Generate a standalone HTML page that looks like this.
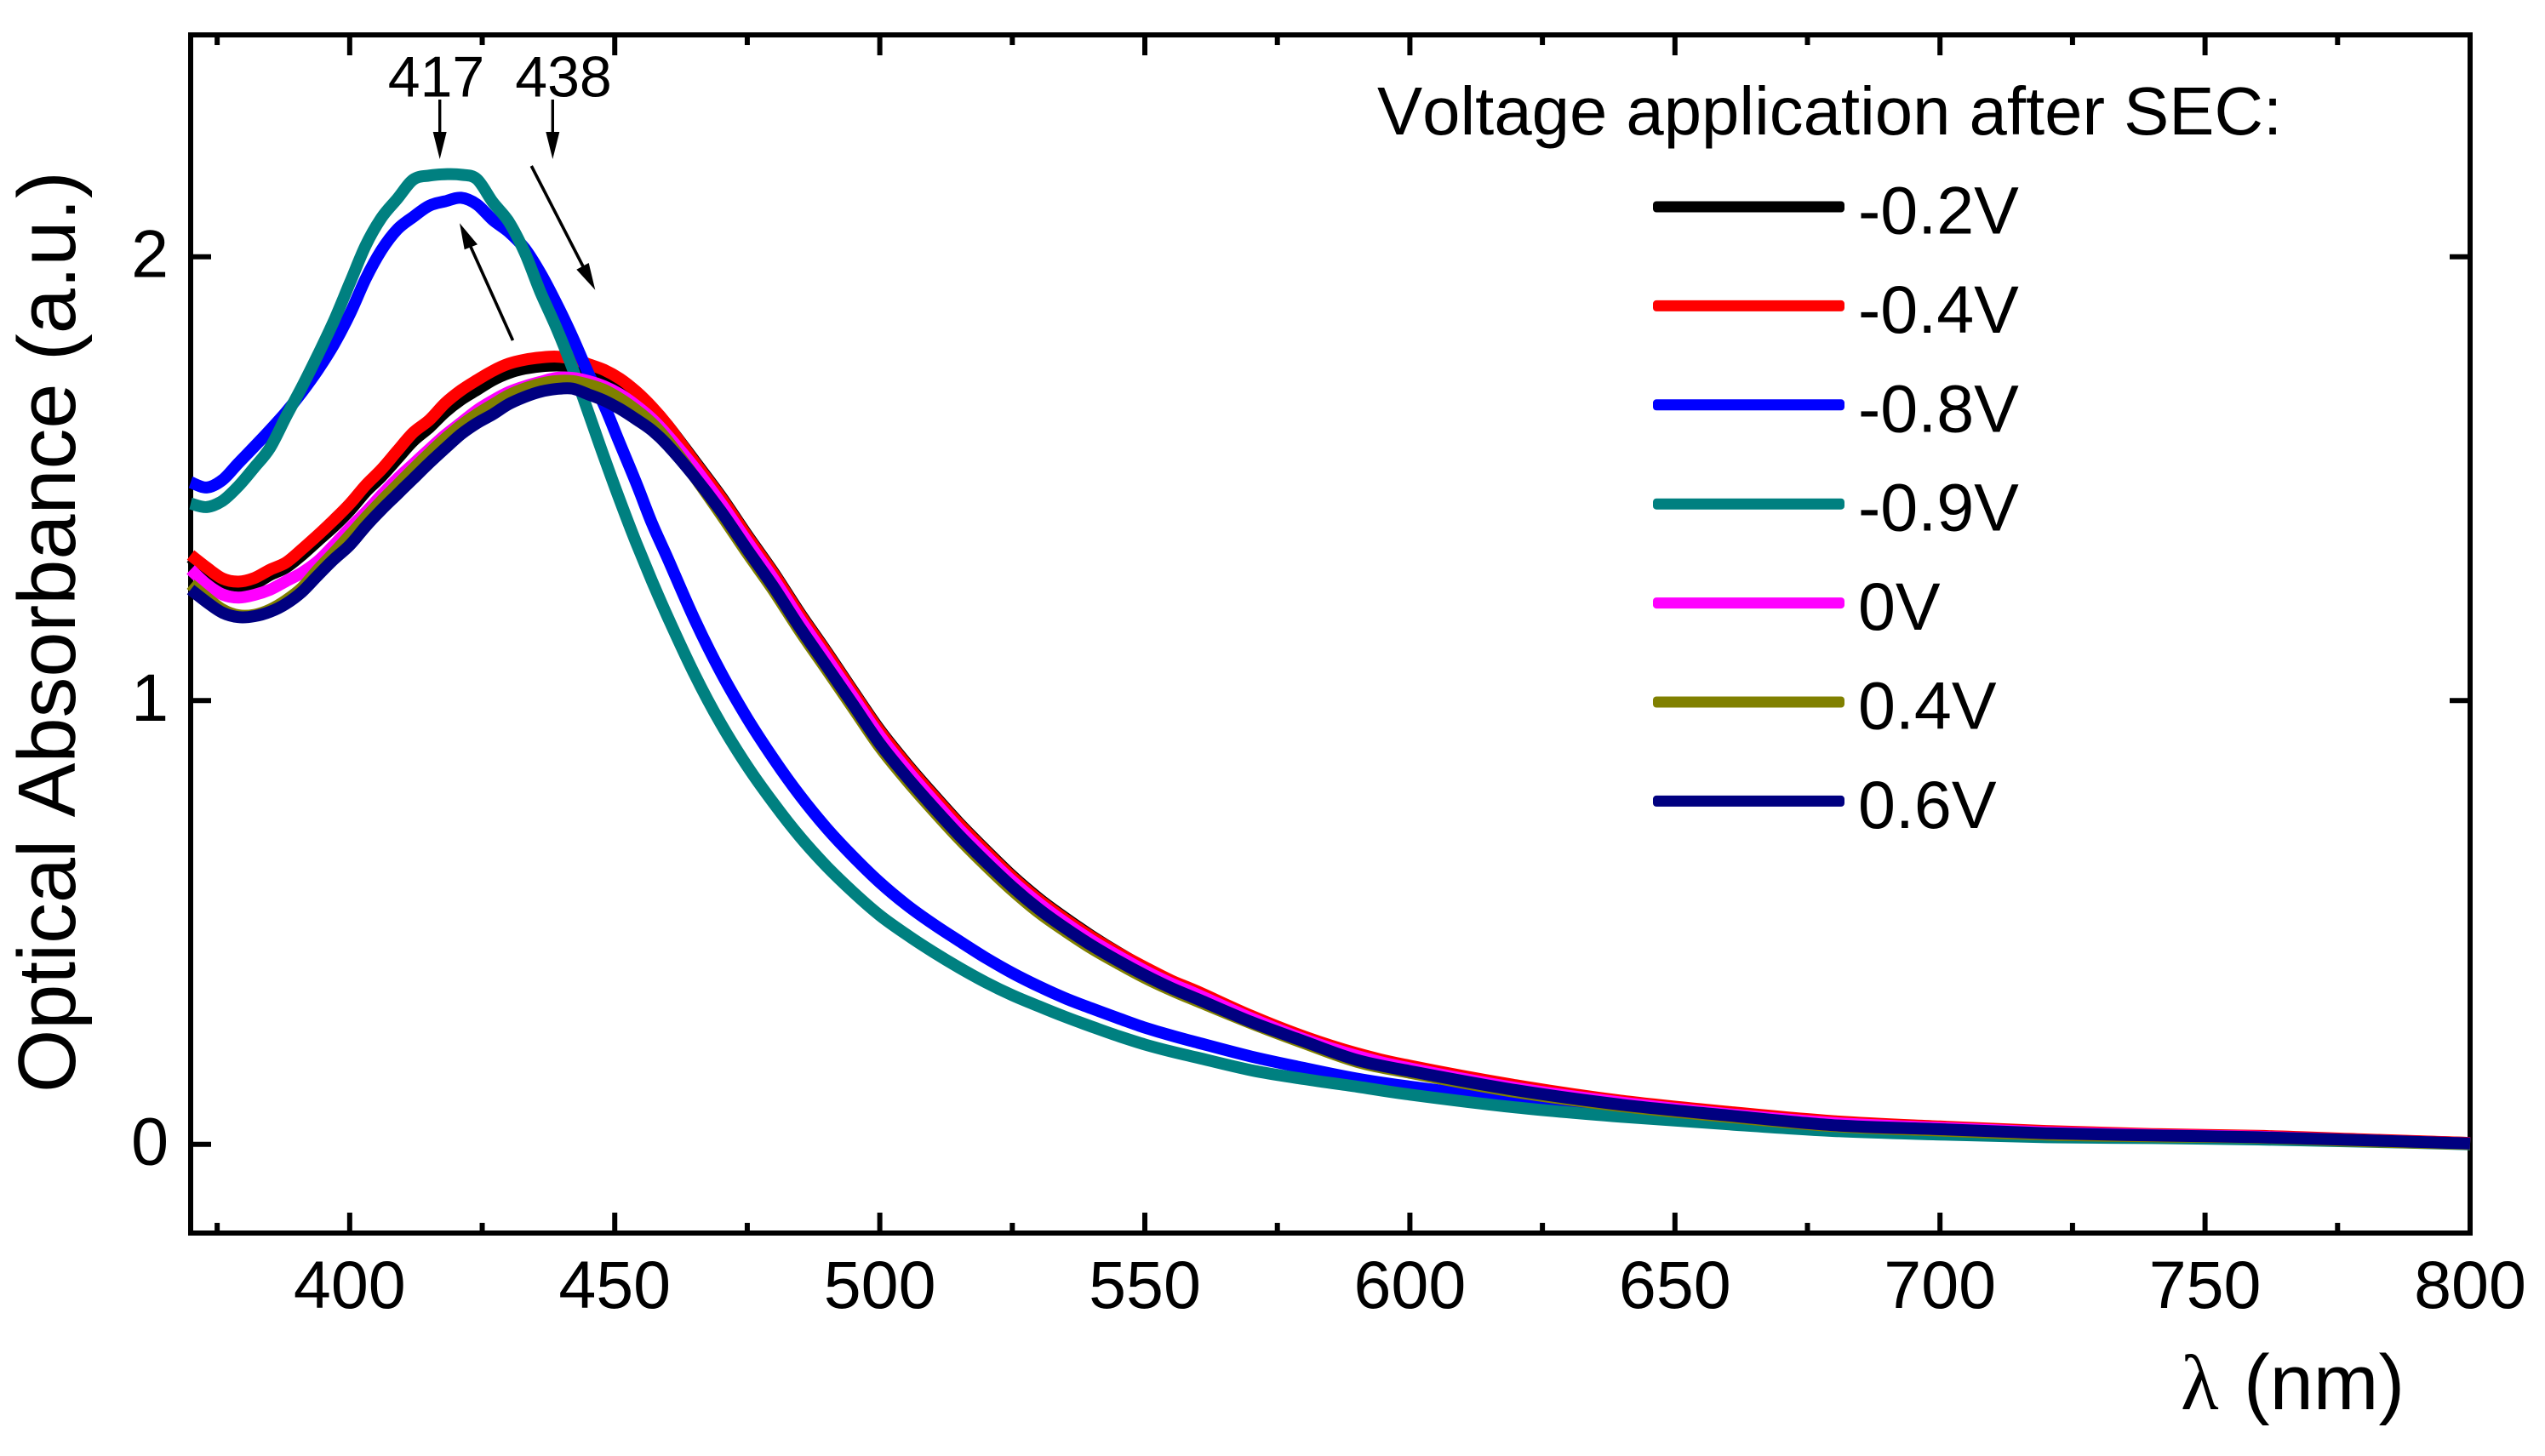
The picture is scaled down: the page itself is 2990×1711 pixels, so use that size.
<!DOCTYPE html>
<html lang="en">
<head>
<meta charset="utf-8">
<title>Optical Absorbance vs Wavelength</title>
<style>
  html, body { margin: 0; padding: 0; background: #fff; }
  svg { display: block; }
  text { font-family: "Liberation Sans", Arial, sans-serif; fill: #000; font-kerning: none; }
</style>
</head>
<body>
<svg id="chart" xmlns="http://www.w3.org/2000/svg" width="2990" height="1711" viewBox="0 0 2990 1711">
  <rect x="0" y="0" width="2990" height="1711" fill="#fff"/>
  <g id="axes"></g>
  <g id="curves"></g>

  <g>
    <text x="512.5" y="113.5" font-size="68" text-anchor="middle">417</text>
    <text x="662" y="113.5" font-size="68" text-anchor="middle">438</text>
    <g>
      <line x1="516.7" y1="117" x2="516.7" y2="160" stroke="#000" stroke-width="3.4"/>
      <polygon points="508.7,155 524.7,155 516.7,187" fill="#000"/>
    </g>
    <g>
      <line x1="649.3" y1="117" x2="649.3" y2="160" stroke="#000" stroke-width="3.4"/>
      <polygon points="641.3,155 657.3,155 649.3,187" fill="#000"/>
    </g>
    <g>
      <line x1="624.3" y1="195" x2="686" y2="315" stroke="#000" stroke-width="3.6"/>
      <polygon points="677.3,316.7 691.7,309 699.3,340.7" fill="#000"/>
    </g>
    <g>
      <line x1="602.5" y1="400" x2="553" y2="290" stroke="#000" stroke-width="3.6"/>
      <polygon points="545.7,293.3 561,287.3 540,262.3" fill="#000"/>
    </g>
  </g>

  <g>
    <text x="1618" y="158" font-size="79.7">Voltage application after SEC:</text>
    <g id="legend-entries"></g>
  </g>

  <text transform="translate(88,1284) rotate(-90)" font-size="95.5">Optical Absorbance (a.u.)</text>
  <text y="1656" font-size="92"><tspan x="2562" style="font-family:'Liberation Serif','DejaVu Serif',serif">λ </tspan><tspan x="2636">(nm)</tspan></text>
</svg>

<script>
const wavelengths = [370,373,376,379,382,385,388,391,394,397,400,403,406,409,412,415,418,421,424,427,430,433,436,439,442,445,448,451,454,457,460,465,470,475,480,485,490,495,500,505,510,515,520,525,530,535,540,545,550,555,560,570,580,590,600,620,640,660,680,700,720,740,760,780,800];

const seriesNeg02 = [1.322,1.292,1.268,1.258,1.263,1.283,1.300,1.328,1.360,1.392,1.428,1.470,1.505,1.545,1.585,1.615,1.650,1.678,1.700,1.722,1.738,1.748,1.753,1.755,1.753,1.745,1.735,1.718,1.693,1.660,1.620,1.541,1.461,1.373,1.288,1.196,1.110,1.021,.934,.859,.790,.724,.663,.605,.554,.510,.469,.432,.398,.368,.343,.289,.242,.204,.176,.132,.097,.072,.051,.039,.029,.022,.018,.010,.003];
const seriesNeg04 = [1.328,1.300,1.275,1.268,1.276,1.295,1.311,1.341,1.373,1.407,1.443,1.485,1.521,1.563,1.604,1.632,1.670,1.699,1.722,1.743,1.759,1.768,1.773,1.775,1.770,1.758,1.745,1.725,1.697,1.662,1.620,1.538,1.458,1.370,1.285,1.193,1.107,1.018,.931,.856,.787,.721,.660,.602,.551,.507,.467,.431,.399,.369,.344,.290,.243,.205,.177,.133,.098,.073,.052,.040,.030,.023,.019,.011,.003];
const seriesNeg08 = [1.492,1.480,1.497,1.535,1.572,1.610,1.650,1.695,1.745,1.802,1.870,1.950,2.015,2.062,2.090,2.115,2.125,2.133,2.118,2.083,2.056,2.019,1.963,1.895,1.820,1.738,1.665,1.578,1.492,1.400,1.320,1.184,1.064,.960,.868,.785,.712,.648,.590,.540,.497,.458,.420,.386,.356,.329,.306,.284,.263,.245,.229,.198,.172,.148,.130,.101,.078,.056,.038,.026,.020,.017,.013,.007,.002];
const seriesNeg09 = [1.444,1.436,1.450,1.483,1.525,1.570,1.640,1.707,1.779,1.855,1.940,2.025,2.088,2.131,2.174,2.183,2.186,2.185,2.175,2.123,2.079,2.010,1.920,1.840,1.750,1.650,1.548,1.450,1.357,1.270,1.188,1.060,.948,.852,.768,.692,.626,.568,.516,.473,.434,.398,.365,.336,.311,.287,.265,.244,.225,.209,.195,.167,.147,.130,.112,.083,.062,.045,.030,.022,.016,.014,.011,.006,.000];
const seriesZero = [1.295,1.262,1.239,1.232,1.238,1.250,1.269,1.288,1.314,1.350,1.388,1.424,1.463,1.500,1.533,1.566,1.598,1.626,1.654,1.676,1.695,1.708,1.718,1.727,1.727,1.720,1.708,1.690,1.665,1.635,1.597,1.525,1.445,1.358,1.273,1.181,1.095,1.007,.920,.845,.776,.710,.650,.593,.543,.499,.459,.424,.391,.362,.337,.284,.237,.199,.171,.127,.094,.068,.048,.037,.027,.021,.017,.009,.002];
const seriesPos04 = [1.262,1.232,1.205,1.192,1.193,1.205,1.226,1.254,1.295,1.333,1.372,1.412,1.450,1.486,1.522,1.557,1.590,1.620,1.645,1.667,1.688,1.703,1.714,1.720,1.720,1.712,1.700,1.680,1.655,1.625,1.585,1.505,1.420,1.332,1.247,1.155,1.069,.982,.895,.821,.753,.688,.628,.572,.522,.480,.441,.407,.375,.347,.322,.273,.228,.186,.161,.118,.086,.062,.041,.031,.022,.018,.015,.007,.001];
const seriesPos06 = [1.250,1.222,1.198,1.188,1.190,1.200,1.218,1.245,1.282,1.318,1.350,1.392,1.430,1.465,1.500,1.535,1.568,1.600,1.625,1.645,1.668,1.684,1.696,1.702,1.703,1.690,1.676,1.657,1.634,1.609,1.575,1.505,1.427,1.340,1.255,1.163,1.077,.990,.903,.829,.761,.696,.636,.580,.530,.487,.448,.413,.381,.352,.327,.276,.232,.190,.165,.122,.089,.065,.043,.034,.025,.020,.016,.009,.002];

const seriesLabels = ['-0.2V','-0.4V','-0.8V','-0.9V','0V','0.4V','0.6V'];
const seriesColors = ['#000000','#ff0000','#0000ff','#008080','#ff00ff','#808000','#000080'];
const seriesValues = [seriesNeg02,seriesNeg04,seriesNeg08,seriesNeg09,seriesZero,seriesPos04,seriesPos06];

const xMajorTicks = [400,450,500,550,600,650,700,750,800];
const xMinorTicks = [375,425,475,525,575,625,675,725,775];
const yMajorTicks = [0,1,2];
const xDomain = [370,800];
const yDomain = [-0.2,2.5];

const plotLeft = 224, plotRight = 2902, plotTop = 41, plotBottom = 1449;
const xScale = v => plotLeft + (v - xDomain[0]) / (xDomain[1] - xDomain[0]) * (plotRight - plotLeft);
const yScale = v => plotBottom - (v - yDomain[0]) / (yDomain[1] - yDomain[0]) * (plotBottom - plotTop);

const NS = 'http://www.w3.org/2000/svg';
const axes = document.getElementById('axes');
const curves = document.getElementById('curves');
const legendEntries = document.getElementById('legend-entries');

function tickLine(parent, x1, y1, x2, y2) {
  const el = document.createElementNS(NS, 'line');
  el.setAttribute('x1', x1);
  el.setAttribute('y1', y1);
  el.setAttribute('x2', x2);
  el.setAttribute('y2', y2);
  el.setAttribute('stroke', '#000');
  el.setAttribute('stroke-width', 6);
  
  
  parent.appendChild(el);
}

function label(parent, x, y, str, size, anchor) {
  const el = document.createElementNS(NS, 'text');
  el.setAttribute('x', x);
  el.setAttribute('y', y);
  el.setAttribute('font-size', size);
  el.setAttribute('text-anchor', anchor);
  el.textContent = str;
  
  
  parent.appendChild(el);
}

function smoothPath(px) {
  let d = 'M' + px[0][0].toFixed(1) + ' ' + px[0][1].toFixed(1);
  for (let i = 0; i < px.length - 1; i++) {
    const p0 = px[Math.max(i - 1, 0)], p1 = px[i], p2 = px[i + 1], p3 = px[Math.min(i + 2, px.length - 1)];
    const c1x = p1[0] + (p2[0] - p0[0]) / 6, c1y = p1[1] + (p2[1] - p0[1]) / 6;
    const c2x = p2[0] - (p3[0] - p1[0]) / 6, c2y = p2[1] - (p3[1] - p1[1]) / 6;
    d += ' C' + c1x.toFixed(1) + ' ' + c1y.toFixed(1) + ' ' + c2x.toFixed(1) + ' ' + c2y.toFixed(1) + ' ' + p2[0].toFixed(1) + ' ' + p2[1].toFixed(1);
  }
  return d;
}

const frame = document.createElementNS(NS, 'rect');
frame.setAttribute('x', plotLeft);
frame.setAttribute('y', plotTop);
frame.setAttribute('width', plotRight - plotLeft);
frame.setAttribute('height', plotBottom - plotTop);
frame.setAttribute('fill', 'none');
frame.setAttribute('stroke', '#000');
frame.setAttribute('stroke-width', 6);


axes.appendChild(frame);

xMajorTicks.forEach(t => {
  const x = xScale(t);
  if (t < xDomain[1]) {
    tickLine(axes, x, plotBottom, x, plotBottom - 24);
    tickLine(axes, x, plotTop, x, plotTop + 24);
  }
  label(axes, x, 1537, String(t), 79, 'middle');
});
xMinorTicks.forEach(t => {
  const x = xScale(t);
  tickLine(axes, x, plotBottom, x, plotBottom - 12);
  tickLine(axes, x, plotTop, x, plotTop + 12);
});
yMajorTicks.forEach(t => {
  const y = yScale(t);
  tickLine(axes, plotLeft, y, plotLeft + 24, y);
  tickLine(axes, plotRight, y, plotRight - 24, y);
  label(axes, 198, y + 24, String(t), 79, 'end');
});

seriesValues.forEach((vals, i) => {
  const px = vals.map((v, k) => [xScale(wavelengths[k]), yScale(v)]);
  const path = document.createElementNS(NS, 'path');
  path.setAttribute('d', smoothPath(px));
  path.setAttribute('fill', 'none');
  path.setAttribute('stroke', seriesColors[i]);
  path.setAttribute('stroke-width', 14);
  path.setAttribute('stroke-linejoin', 'round');
  path.setAttribute('stroke-linecap', 'butt');
  
  
  curves.appendChild(path);

  const rowY = 243 + i * 116.4;
  const swatch = document.createElementNS(NS, 'rect');
  swatch.setAttribute('x', 1942);
  swatch.setAttribute('y', rowY - 6.5);
  swatch.setAttribute('width', 225);
  swatch.setAttribute('height', 13);
  swatch.setAttribute('rx', 4);
  swatch.setAttribute('fill', seriesColors[i]);
  
  
  legendEntries.appendChild(swatch);

  const txt = document.createElementNS(NS, 'text');
  txt.setAttribute('x', 2183);
  txt.setAttribute('y', rowY + 31.5);
  txt.setAttribute('font-size', 79);
  txt.textContent = seriesLabels[i];
  
  
  legendEntries.appendChild(txt);
});
</script>
</body>
</html>
